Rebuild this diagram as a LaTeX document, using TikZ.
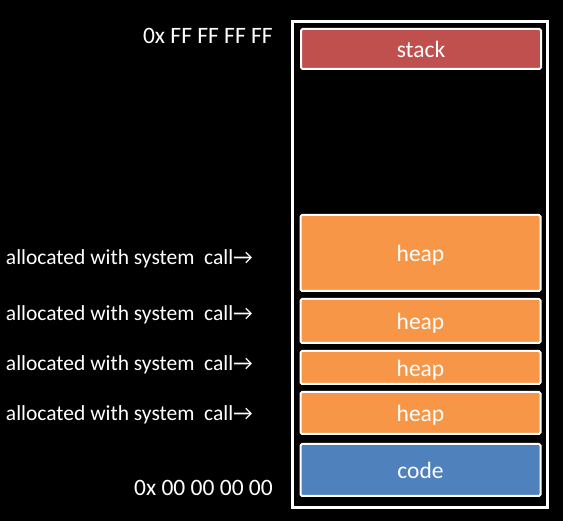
\documentclass[tikz,border=0pt]{standalone}
\usepackage{fontspec}
\setmainfont{Carlito}
\definecolor{stackred}{HTML}{C0504D}
\definecolor{heaporange}{HTML}{F79646}
\definecolor{codeblue}{HTML}{4F81BD}
\begin{document}
\begin{tikzpicture}[x=1pt,y=-1pt,
        seg/.style={draw=white, line width=2pt, rounded corners=1.5pt, text=white, minimum width=240pt, inner sep=0pt, text height=19pt, text depth=1pt, font=\fontsize{23.5}{26}\selectfont},
        lbl/.style={text=white, inner sep=0pt, anchor=base east, font=\fontsize{21.5}{24}\selectfont},
        addr/.style={lbl, font=\fontsize{23.5}{26}\selectfont}]
        \fill[black] (0,0) rectangle (563,521);
        \draw[white, line width=3pt] (292.5,21.5) rectangle (547.5,507.5);
        \node[seg, fill=stackred, minimum height=40pt] (stack) at (421,49) {stack};
        \node[seg, fill=heaporange, minimum height=76pt] (heapA) at (420.5,253) {heap};
        \node[seg, fill=heaporange, minimum height=44pt] (heapB) at (420.5,321) {heap};
        \node[seg, fill=heaporange, minimum height=33pt] (heapC) at (420.5,367.5) {heap};
        \node[seg, fill=heaporange, minimum height=42pt] (heapD) at (420.5,413) {heap};
        \node[seg, fill=codeblue, minimum height=52pt] (code) at (420.5,470) {code};
        \node[addr] (top) at (273,44) {0x FF FF FF FF};
        \node[addr] (bottom) at (273,496) {0x 00 00 00 00};
        \node[lbl] (callA) at (253,265) {allocated with system\ \ call→};
        \node[lbl] (callB) at (253,321) {allocated with system\ \ call→};
        \node[lbl] (callC) at (253,371) {allocated with system\ \ call→};
        \node[lbl] (callD) at (253,421) {allocated with system\ \ call→};
\end{tikzpicture}
\end{document}
